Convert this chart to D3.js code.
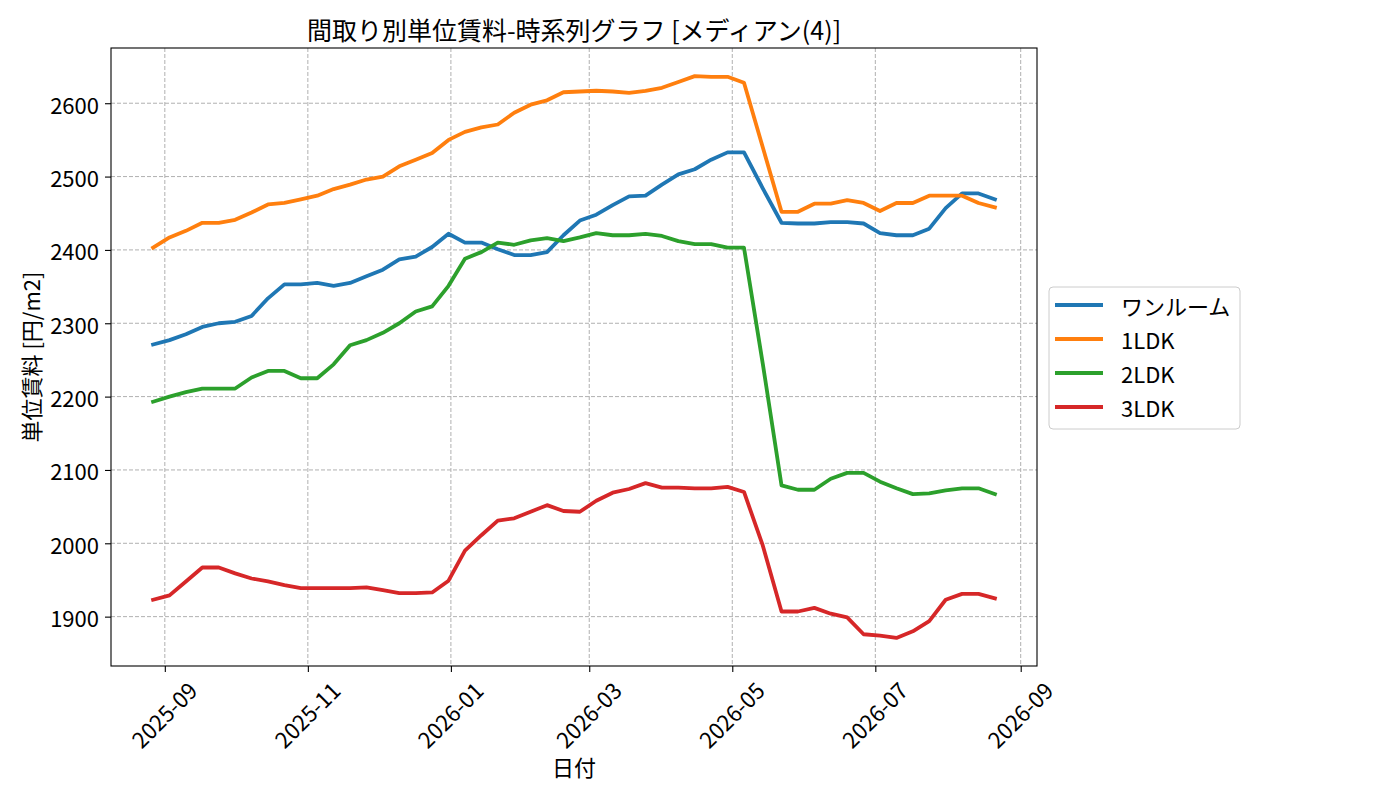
<!DOCTYPE html>
<html lang="ja">
<head>
    <meta charset="UTF-8">
    <title>間取り別単位賃料-時系列グラフ</title>
    <script src="https://cdn.jsdelivr.net/npm/d3@7/dist/d3.min.js"></script>
    <style>
        body { margin: 0; background: #fff; }
        svg text { font-family: "Noto Sans CJK JP", "Noto Sans", sans-serif; fill: #000; }
        .axis text { font-size: 22px; }
        .axis path, .axis line { stroke: #000; stroke-width: 1.1px; }
        .grid line { stroke: #b0b0b0; stroke-width: 1px; stroke-dasharray: 4,2; }
        .series { fill: none; stroke-width: 3.8px; stroke-linejoin: round; stroke-linecap: square; }
    </style>
</head>
<body>
<script>

    /******* DATA *******/
    const dates = [
        "2025-08-27", "2025-09-03", "2025-09-10", "2025-09-17", "2025-09-24",
        "2025-10-01", "2025-10-08", "2025-10-15", "2025-10-22", "2025-10-29",
        "2025-11-05", "2025-11-12", "2025-11-19", "2025-11-26", "2025-12-03",
        "2025-12-10", "2025-12-17", "2025-12-24", "2025-12-31", "2026-01-07",
        "2026-01-14", "2026-01-21", "2026-01-28", "2026-02-04", "2026-02-11",
        "2026-02-18", "2026-02-25", "2026-03-04", "2026-03-11", "2026-03-18",
        "2026-03-25", "2026-04-01", "2026-04-08", "2026-04-15", "2026-04-22",
        "2026-04-29", "2026-05-06", "2026-05-14", "2026-05-22", "2026-05-29",
        "2026-06-05", "2026-06-12", "2026-06-19", "2026-06-26", "2026-07-03",
        "2026-07-10", "2026-07-17", "2026-07-24", "2026-07-31", "2026-08-07",
        "2026-08-14", "2026-08-21"
    ];

    const oneRoom = [
        2271, 2277, 2285, 2295, 2300, 2302, 2310, 2334, 2353, 2353,
        2355, 2351, 2355, 2364, 2373, 2387, 2391, 2404, 2422, 2410,
        2410, 2401, 2393, 2393, 2397, 2420, 2440, 2448, 2461, 2473,
        2474, 2489, 2503, 2510, 2523, 2533, 2533, 2484, 2437, 2436,
        2436, 2438, 2438, 2436, 2423, 2420, 2420, 2429, 2457, 2477,
        2477, 2469
    ];
    const ldk1 = [
        2403, 2417, 2426, 2437, 2437, 2441, 2451, 2462, 2464, 2469,
        2474, 2483, 2489, 2496, 2500, 2514, 2523, 2532, 2550, 2561,
        2567, 2571, 2587, 2598, 2604, 2615, 2616, 2617, 2616, 2614,
        2617, 2621, 2629, 2637, 2636, 2636, 2628, 2540, 2452, 2452,
        2463, 2463, 2468, 2464, 2453, 2464, 2464, 2474, 2474, 2474,
        2464, 2458
    ];
    const ldk2 = [
        2193, 2200, 2206, 2211, 2211, 2211, 2226, 2235, 2235, 2225,
        2225, 2244, 2270, 2277, 2287, 2300, 2316, 2323, 2351, 2388,
        2397, 2410, 2407, 2413, 2416, 2412, 2417, 2423, 2420, 2420,
        2422, 2419, 2412, 2408, 2408, 2403, 2403, 2245, 2079, 2073,
        2073, 2088, 2096, 2096, 2084, 2075, 2067, 2068, 2072, 2075,
        2075, 2067
    ];
    const ldk3 = [
        1923, 1929, 1948, 1967, 1967, 1959, 1952, 1948, 1943, 1939,
        1939, 1939, 1939, 1940, 1936, 1932, 1932, 1933, 1949, 1990,
        2011, 2031, 2034, 2043, 2052, 2044, 2043, 2058, 2069, 2074,
        2082, 2076, 2076, 2075, 2075, 2077, 2070, 1997, 1907, 1907,
        1912, 1904, 1899, 1876, 1874, 1871, 1880, 1894, 1923, 1931,
        1931, 1925
    ];

    const seriesNames = ["ワンルーム", "1LDK", "2LDK", "3LDK"];
    const seriesValues = [oneRoom, ldk1, ldk2, ldk3];
    const xTickLabels = ["2025-09", "2025-11", "2026-01", "2026-03", "2026-05", "2026-07", "2026-09"];
    const yTickValues = [1900, 2000, 2100, 2200, 2300, 2400, 2500, 2600];


    /******* STYLING/FORMATTING *******/
    const width = 1400;
    const height = 800;
    const svg = d3.select("body").append("svg")
        .attr("width", width)
        .attr("height", height)
        .attr("viewBox", `0 0 ${width} ${height}`);

    const margins = { top: 48, bottom: 134, left: 111, right: 363 };
    const plotRight = width - margins.right;
    const plotBottom = height - margins.bottom;

    const color = d3.scaleOrdinal()
        .domain(seriesNames)
        .range(["#1f77b4", "#ff7f0e", "#2ca02c", "#d62728"]);

    const parseDate = d3.timeParse("%Y-%m-%d");
    const parseMonth = d3.timeParse("%Y-%m");
    const dateObjs = dates.map(parseDate);

    const series = seriesNames.map((name, k) => ({
        name: name,
        points: dateObjs.map((d, i) => ({ date: d, value: seriesValues[k][i] }))
    }));


    /******* SCALES (5% padding like matplotlib) *******/
    const dExt = d3.extent(dateObjs);
    const dPad = (dExt[1] - dExt[0]) * 0.05;
    const xScale = d3.scaleTime()
        .domain([new Date(+dExt[0] - dPad), new Date(+dExt[1] + dPad)])
        .range([margins.left, plotRight]);

    const allVals = seriesValues.flat();
    const vMin = d3.min(allVals), vMax = d3.max(allVals);
    const vPad = (vMax - vMin) * 0.05;
    const yScale = d3.scaleLinear()
        .domain([vMin - vPad, vMax + vPad])
        .range([plotBottom, margins.top]);

    const xTicks = xTickLabels.map(parseMonth);


    /******* GRID *******/
    svg.append("g")
        .attr("class", "grid")
        .selectAll("line")
        .data(xTicks)
        .enter()
        .append("line")
        .attr("x1", d => xScale(d)).attr("x2", d => xScale(d))
        .attr("y1", margins.top).attr("y2", plotBottom);
    svg.append("g")
        .attr("class", "grid")
        .selectAll("line")
        .data(yTickValues)
        .enter()
        .append("line")
        .attr("x1", margins.left).attr("x2", plotRight)
        .attr("y1", d => yScale(d)).attr("y2", d => yScale(d));


    /******* LINES *******/
    const lineGen = d3.line()
        .x(d => xScale(d.date))
        .y(d => yScale(d.value));

    svg.append("g")
        .selectAll("path")
        .data(series)
        .enter()
        .append("path")
        .attr("class", "series")
        .attr("stroke", d => color(d.name))
        .attr("d", d => lineGen(d.points));


    /******* AXES *******/
    const xAxis = d3.axisBottom(xScale)
        .tickValues(xTicks)
        .tickFormat(d3.timeFormat("%Y-%m"))
        .tickSizeOuter(0)
        .tickSize(6);
    svg.append("g")
        .attr("class", "axis")
        .attr("transform", `translate(0,${plotBottom})`)
        .call(xAxis)
        .call(g => g.select(".domain").remove())
        .selectAll("text")
        .attr("text-anchor", "middle")
        .attr("dominant-baseline", "central")
        .attr("y", 0)
        .attr("dy", null)
        .attr("transform", "translate(-2,48) rotate(-45)");

    const yAxis = d3.axisLeft(yScale)
        .tickValues(yTickValues)
        .tickFormat(d3.format("d"))
        .tickSizeOuter(0)
        .tickSize(6)
        .tickPadding(6);
    svg.append("g")
        .attr("class", "axis")
        .attr("transform", `translate(${margins.left},0)`)
        .call(yAxis)
        .call(g => g.select(".domain").remove())
        .selectAll("text")
        .attr("dominant-baseline", "central")
        .attr("dy", null);

    // frame
    svg.append("rect")
        .attr("x", margins.left)
        .attr("y", margins.top)
        .attr("width", plotRight - margins.left)
        .attr("height", plotBottom - margins.top)
        .attr("fill", "none")
        .attr("stroke", "#000")
        .attr("stroke-width", 1.1);


    /******* TITLES *******/
    const midX = (margins.left + plotRight) / 2;
    svg.append("text")
        .attr("x", midX)
        .attr("y", 40)
        .attr("text-anchor", "middle")
        .style("font-size", "25px")
        .text("間取り別単位賃料-時系列グラフ [メディアン(4)]");
    svg.append("text")
        .attr("x", midX)
        .attr("y", 776)
        .attr("text-anchor", "middle")
        .style("font-size", "22px")
        .text("日付");
    svg.append("text")
        .attr("transform", `translate(40,${(margins.top + plotBottom) / 2}) rotate(-90)`)
        .attr("text-anchor", "middle")
        .style("font-size", "22px")
        .text("単位賃料 [円/m2]");


    /******* LEGEND *******/
    const legend = svg.append("g").attr("transform", "translate(1049,287)");
    legend.append("rect")
        .attr("width", 191)
        .attr("height", 142)
        .attr("rx", 4)
        .attr("fill", "#fff")
        .attr("fill-opacity", 0.8)
        .attr("stroke", "#cccccc")
        .attr("stroke-width", 1);
    const items = legend.selectAll("g.item")
        .data(seriesNames)
        .enter()
        .append("g")
        .attr("class", "item")
        .attr("transform", (d, i) => `translate(0,${18 + i * 34})`);
    items.append("line")
        .attr("x1", 6).attr("x2", 54)
        .attr("stroke", d => color(d))
        .attr("stroke-width", 3.8);
    items.append("text")
        .attr("x", 72)
        .attr("dominant-baseline", "central")
        .style("font-size", "22px")
        .text(d => d);

</script>
</body>
</html>
